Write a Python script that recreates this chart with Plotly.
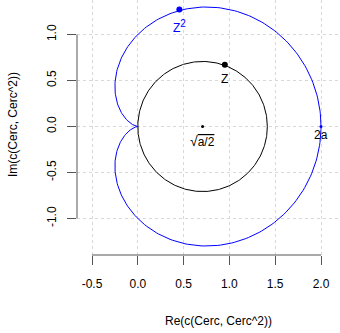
import numpy as np
import plotly.graph_objects as go

# --- data ---
a = 1.0                      # parameter: 2a sits at x = 2
center = np.sqrt(a / 2)      # circle centre (labelled sqrt(a/2)), radius equal to it
z = 0.95 + 0.67j             # marked point z on the circle
n_pts = 361
x_ticks = [-0.5, 0.0, 0.5, 1.0, 1.5, 2.0]
x_tick_labels = ["-0.5", "0.0", "0.5", "1.0", "1.5", "2.0"]
y_ticks = [-1.0, -0.5, 0.0, 0.5, 1.0]
y_tick_labels = ["-1.0", "-0.5", "0.0", "0.5", "1.0"]

t = np.linspace(0, 2 * np.pi, n_pts)
cerc = center + center * np.exp(1j * t)
cerc2 = cerc ** 2
z2 = z ** 2

fig = go.Figure()
fig.add_trace(go.Scatter(x=cerc.real, y=cerc.imag, mode="lines",
                         line=dict(color="black", width=1), hoverinfo="skip"))
fig.add_trace(go.Scatter(x=cerc2.real, y=cerc2.imag, mode="lines",
                         line=dict(color="blue", width=1), hoverinfo="skip"))
fig.add_trace(go.Scatter(x=[z.real], y=[z.imag], mode="markers",
                         marker=dict(color="black", size=6)))
fig.add_trace(go.Scatter(x=[z2.real], y=[z2.imag], mode="markers",
                         marker=dict(color="blue", size=6)))
fig.add_trace(go.Scatter(x=[center], y=[0], mode="markers",
                         marker=dict(color="black", size=3)))
fig.add_trace(go.Scatter(x=[2 * a], y=[0], mode="markers",
                         marker=dict(color="blue", size=3)))

font = dict(family="Liberation Sans, Arial, sans-serif", size=12, color="black")

annotations = [
    dict(x=z.real, y=z.imag, text="Z", showarrow=False, yshift=-14,
         font=dict(font, color="black")),
    dict(x=z2.real, y=z2.imag, text="Z<sup><span style='font-size:10px'>2</span></sup>",
         showarrow=False, yshift=-17, font=dict(font, color="blue")),
    dict(x=center, y=0,
         text="<span style='font-size:14px'>√</span><span style='text-decoration:overline'>a/2</span>",
         showarrow=False, yshift=-14, font=font),
    dict(x=2 * a, y=0, text="2a", showarrow=False, yshift=-8, font=font),
    dict(x=(218 - 77) / 263, y=-(321 - 255) / 255, xref="paper", yref="paper",
         text="Re(c(Cerc, Cerc^2))", showarrow=False, font=font,
         xanchor="center", yanchor="middle"),
    dict(x=-(77 - 13) / 263, y=(255 - 125) / 255, xref="paper", yref="paper",
         text="Im(c(Cerc, Cerc^2))", showarrow=False, font=font, textangle=-90,
         xanchor="center", yanchor="middle"),
]

shapes = [
    dict(type="line", xref="x", yref="paper", x0=x_ticks[0], x1=x_ticks[-1],
         y0=0, y1=0, line=dict(color="#555", width=1)),
    dict(type="line", xref="paper", yref="y", x0=0, x1=0,
         y0=y_ticks[0], y1=y_ticks[-1], line=dict(color="#555", width=1)),
]

fig.update_layout(
    width=340, height=333,
    margin=dict(l=77, r=0, t=0, b=78),
    paper_bgcolor="white", plot_bgcolor="white",
    showlegend=False,
    font=font,
    annotations=annotations,
    shapes=shapes,
    xaxis=dict(range=[-0.6638, 2.2074], tickvals=x_ticks, ticktext=x_tick_labels,
               showgrid=True, gridcolor="#d8d8d8", griddash="dot", gridwidth=1,
               zeroline=False, showline=False, ticks="outside", ticklen=9,
               tickcolor="#555", tickwidth=1, ticklabelstandoff=9,
               tickfont=font),
    yaxis=dict(range=[-1.3967, 1.375], tickvals=y_ticks, ticktext=y_tick_labels,
               showgrid=True, gridcolor="#d8d8d8", griddash="dot", gridwidth=1,
               zeroline=False, showline=False, ticks="outside", ticklen=9,
               tickcolor="#555", tickwidth=1, tickangle=-90, ticklabelstandoff=6,
               tickfont=font),
)

fig.write_html("out.html")
